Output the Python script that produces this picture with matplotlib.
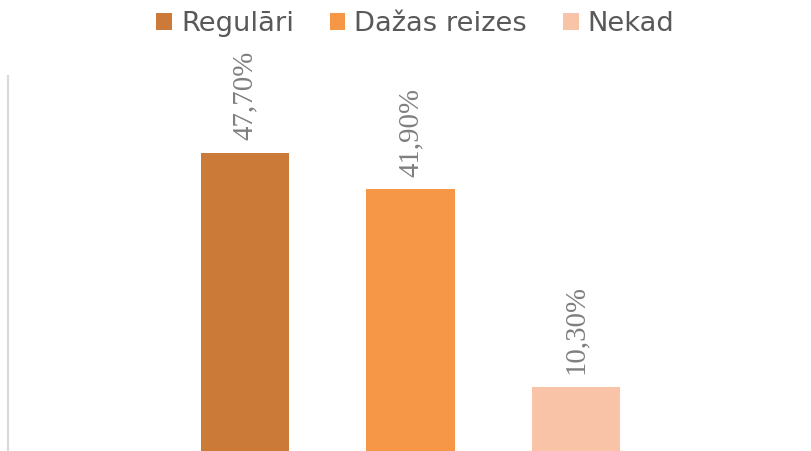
import matplotlib
matplotlib.use("Agg")
import matplotlib.pyplot as plt
from matplotlib.patches import Patch

categories = ['Regulāri', 'Dažas reizes', 'Nekad']
values = [47.7, 41.9, 10.3]
labels = ['47,70%', '41,90%', '10,30%']
bar_colors = ['#cc7a37', '#f59746', '#f9c3a7']

fig = plt.figure(figsize=(8.11, 4.51), dpi=100)
ax = fig.add_axes([8 / 811, 0, 1 - 8 / 811, 375 / 451])

x = range(len(categories))
bars = ax.bar(x, values, width=0.532, color=bar_colors)

for b, lab in zip(bars, labels):
    ax.text(b.get_x() + b.get_width() / 2, b.get_height() + 2.0, lab,
            rotation=90, ha='center', va='bottom', color='#7f7f7f',
            fontsize=20.8, family='Liberation Serif')

ax.set_xlim(-1.432, 3.42)
ax.set_ylim(0, 60)
for s in ['top', 'right', 'bottom']:
    ax.spines[s].set_visible(False)
ax.spines['left'].set_color('#d9d9d9')
ax.spines['left'].set_linewidth(1.5)
ax.set_xticks([])
ax.set_yticks([])

handles = [Patch(facecolor=c, edgecolor='none') for c in bar_colors]
fig.legend(handles, categories, loc='upper center', bbox_to_anchor=(0.512, 1.03),
           ncol=3, frameon=False, fontsize=19.7, labelcolor='#595959',
           handlelength=0.58, handleheight=0.58, handletextpad=0.33,
           columnspacing=1.3)

fig.savefig('out.png', dpi=100)
